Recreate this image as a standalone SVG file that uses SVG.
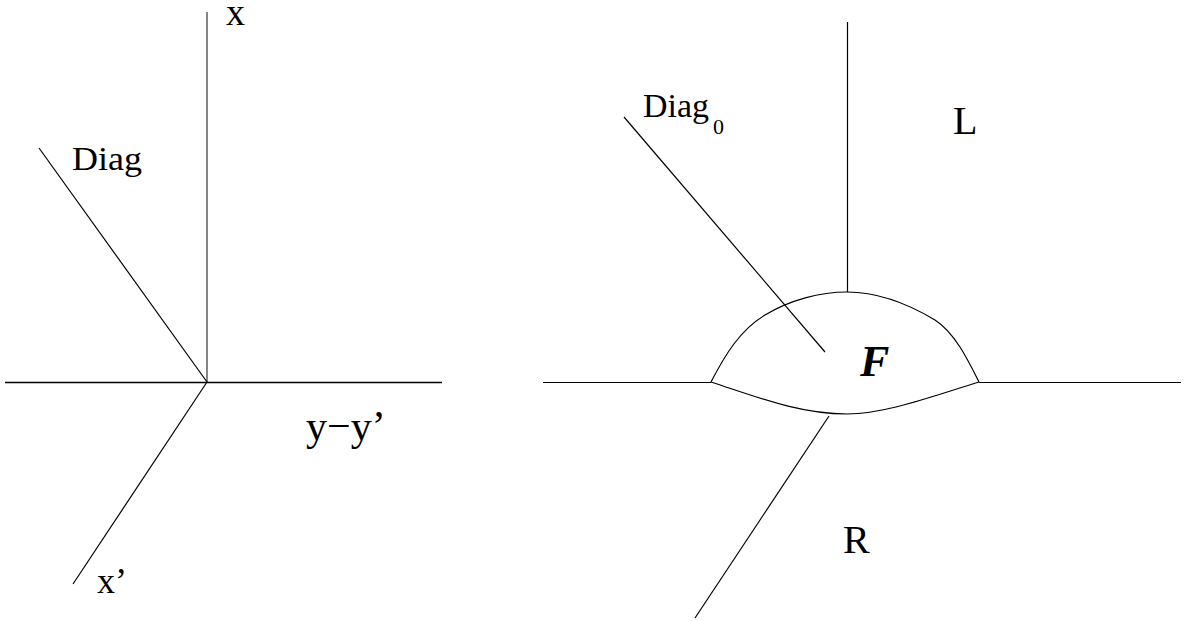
<svg xmlns="http://www.w3.org/2000/svg" width="1189" height="621" viewBox="0 0 1189 621">
<style>
.ln{stroke:#000;stroke-width:1.2;fill:none}
.t{font-family:"Liberation Serif","Times New Roman",serif;fill:#000}
</style>
<rect width="1189" height="621" fill="#fff"/>
<g id="connectors">
<line class="ln" x1="207" y1="12" x2="207" y2="382" style="stroke:#666;stroke-width:1.6"/>
<line class="ln" x1="5" y1="382.5" x2="442" y2="382.5" style="stroke-width:1.5"/>
<line class="ln" x1="39" y1="148" x2="207" y2="382"/>
<line class="ln" x1="207" y1="382" x2="73" y2="584"/>
<line class="ln" x1="847.5" y1="22" x2="847.5" y2="292"/>
<line class="ln" x1="543" y1="382.5" x2="711" y2="382.5" style="stroke-width:1"/>
<line class="ln" x1="979" y1="382.5" x2="1181" y2="382.5" style="stroke-width:1"/>
<line class="ln" x1="624" y1="117" x2="825" y2="352"/>
<line class="ln" x1="829" y1="416" x2="695" y2="618"/>
</g>
<g id="F">
<path class="ln" d="M711,382 C725,355 740,330 765,315 C790,300 820,292 847,292 C880,292 910,305 935,320 C955,333 968,360 979,382"/>
<path class="ln" d="M711,382 C760,398 800,414 847,414 C885,414 930,397 979,382"/>
<text class="t" x="860" y="376" font-size="44" font-weight="bold" font-style="italic">F</text>
</g>
<g id="labels">
<text class="t" x="226" y="25" font-size="38">x</text>
<text class="t" x="72" y="170" font-size="33" textLength="70" lengthAdjust="spacingAndGlyphs">Diag</text>
<text class="t" x="306" y="440" font-size="42">y−y’</text>
<text class="t" x="97" y="593" font-size="36">x’</text>
<text class="t" x="643" y="117" font-size="33" textLength="66" lengthAdjust="spacingAndGlyphs">Diag</text>
<text class="t" x="713" y="134" font-size="22">0</text>
<text class="t" x="953" y="134" font-size="40">L</text>
<text class="t" x="843" y="553" font-size="40">R</text>
</g>
</svg>
